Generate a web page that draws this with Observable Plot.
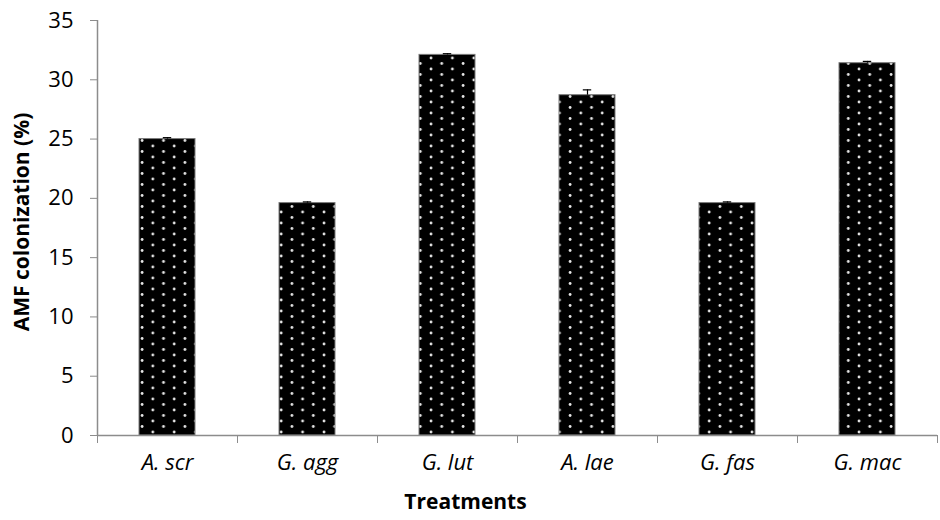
<!DOCTYPE html>
<html>
<head>
<meta charset="utf-8">
<script src="https://cdn.jsdelivr.net/npm/d3@7"></script>
<script src="https://cdn.jsdelivr.net/npm/@observablehq/plot@0.6"></script>
<style>
  html, body { margin: 0; padding: 0; background: #fff; }
  #chart svg { display: block; }
</style>
</head>
<body>
<div id="chart"></div>
<script>
const categories = ["A. scr", "G. agg", "G. lut", "A. lae", "G. fas", "G. mac"];
const values = [25.0, 19.6, 32.1, 28.7, 19.6, 31.4];
const errors = [0.12, 0.1, 0.1, 0.45, 0.1, 0.15];
const yTicks = [0, 5, 10, 15, 20, 25, 30, 35];
const yLabel = "AMF colonization (%)";
const xLabel = "Treatments";

const data = categories.map((c, i) => ({i, c, v: values[i], e: errors[i]}));
const font = "'Open Sans', sans-serif";
const gray = "#8c8c8c";

const chart = Plot.plot({
  width: 940,
  height: 520,
  marginTop: 20,
  marginBottom: 85,
  marginLeft: 97,
  marginRight: 3,
  style: {fontFamily: font, fontSize: "20px", color: "#000", background: "#fff"},
  x: {domain: [0, categories.length], axis: null},
  y: {domain: [0, 35], axis: null},
  marks: [
    // bars
    Plot.rectY(data, {x1: d => d.i + 0.3, x2: d => d.i + 0.7, y: "v", fill: "url(#dots)", stroke: "#7a7a7a", strokeWidth: 1}),
    // error bars
    Plot.ruleX(data, {x: d => d.i + 0.5, y1: d => d.v, y2: d => d.v + d.e, stroke: "#000", strokeWidth: 1.2}),
    Plot.ruleY(data, {y: d => d.v + d.e, x1: d => d.i + 0.47, x2: d => d.i + 0.53, stroke: "#000", strokeWidth: 1.2}),
    // y axis
    Plot.ruleX([0], {stroke: gray, strokeWidth: 1.5}),
    Plot.axisY({ticks: yTicks, tickSize: 7, tickPadding: 17, stroke: gray, fontSize: 22, label: null, tickFormat: d => String(d)}),
    // x axis
    Plot.ruleY([0], {stroke: gray, strokeWidth: 1.5}),
    Plot.axisX({ticks: d3.range(categories.length + 1), tickSize: 8, tickFormat: () => "", stroke: gray, label: null}),
    Plot.text(data, {x: d => d.i + 0.5, y: 0, text: "c", dy: 27, fontStyle: "italic", fontSize: 22, fill: "#000"}),
    // axis titles
    Plot.text([yLabel], {frameAnchor: "left", textAnchor: "middle", rotate: -90, dx: -75, dy: -6, fontWeight: "bold", fontSize: 21, fill: "#000"}),
    Plot.text([xLabel], {frameAnchor: "bottom", dy: 73, dx: -52, fontWeight: "bold", fontSize: 21, fill: "#000"})
  ]
});

// dotted pattern fill
const ns = "http://www.w3.org/2000/svg";
const defs = document.createElementNS(ns, "defs");
defs.innerHTML = `<pattern id="dots" patternUnits="userSpaceOnUse" width="21.4" height="11" x="0" y="0">
  <rect width="21.4" height="11" fill="#000"/>
  <circle cx="3" cy="3" r="1.4" fill="#e6e6e6"/>
  <circle cx="13.7" cy="8.5" r="1.4" fill="#e6e6e6"/>
</pattern>`;
chart.insertBefore(defs, chart.firstChild);
document.getElementById("chart").appendChild(chart);
</script>
</body>
</html>
